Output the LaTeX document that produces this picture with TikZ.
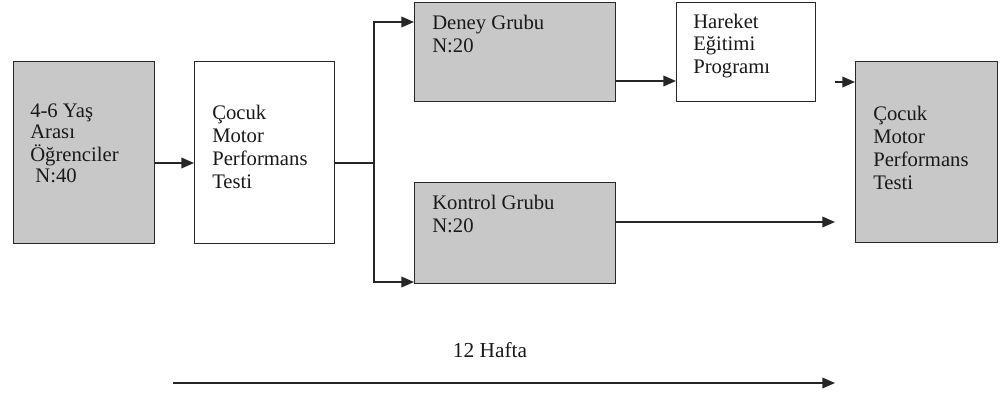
\documentclass[tikz,border=0pt]{standalone}
\usepackage{fontspec}
\setmainfont{Liberation Serif}
\usetikzlibrary{arrows.meta,calc}
\definecolor{boxgray}{RGB}{200,200,200}
\definecolor{edge}{RGB}{40,40,40}
\newcommand\mylines[2]{\fontsize{15.5}{#1}\selectfont\begin{tabular}[t]{@{}l@{}}#2\end{tabular}}
\tikzset{
  box/.style={draw=edge, line width=0.9pt, anchor=north west, inner sep=0pt},
  gbox/.style={box, fill=boxgray},
  wbox/.style={box, fill=white},
  txt/.style={anchor=base west, inner sep=0pt, text=black!90},
  conn/.style={line width=1.1pt, draw=black!85},
  arr/.style={conn, -{Triangle[length=9.5pt,width=8pt]}}
}
\begin{document}
\begin{tikzpicture}[x=0.75pt,y=-0.75pt]
\useasboundingbox (0,0) rectangle (1000,396);
% boxes
\node[gbox, minimum width={141*0.75pt}, minimum height={182*0.75pt}] (b1) at (13,61) {};
\node[wbox, minimum width={140*0.75pt}, minimum height={182*0.75pt}] (b2) at (194,61) {};
\node[gbox, minimum width={201*0.75pt}, minimum height={99*0.75pt}] (deney) at (414,2) {};
\node[wbox, minimum width={139*0.75pt}, minimum height={99*0.75pt}] (hareket) at (676,2) {};
\node[gbox, minimum width={201*0.75pt}, minimum height={101*0.75pt}] (kontrol) at (414,182) {};
\node[gbox, minimum width={142*0.75pt}, minimum height={181*0.75pt}] (final) at (855,61) {};
% texts
\node[txt] (t1) at (30,117) {\mylines{15.75pt}{4-6 Yaş\\Arası\\Öğrenciler\\\ N:40}};
\node[txt] (t2) at (212,119) {\mylines{17.25pt}{Çocuk\\Motor\\Performans\\Testi}};
\node[txt] (t3) at (432,29) {\mylines{17.25pt}{Deney Grubu\\N:20}};
\node[txt] (t4) at (693,28) {\mylines{17pt}{Hareket\\Eğitimi\\Programı}};
\node[txt] (t5) at (432,209) {\mylines{17.25pt}{Kontrol Grubu\\N:20}};
\node[txt] (t6) at (873,120) {\mylines{17.25pt}{Çocuk\\Motor\\Performans\\Testi}};
\node[anchor=base, inner sep=0pt, text=black!90, font=\fontsize{16}{18}\selectfont] (hafta) at (490,357) {12 Hafta};
% coordinates
\coordinate (split) at (374,163);
\coordinate (jt) at (374,22);
\coordinate (jb) at (374,282);
\coordinate (dh) at ($(deney.north east)+(0,79)$);
\coordinate (stub) at (835,82);
\coordinate (kend) at (835,222);
\coordinate (ts) at (173,383);
\coordinate (te) at (835,383);
% connectors
\draw[arr] ($(b1.north east)+(0,102)$) -- ($(b2.north west)+(0,102)$);
\draw[conn] ($(b2.north east)+(0,102)$) -- (split);
\draw[arr] (split) -- (jt) -- (deney.west |- jt);
\draw[arr] (split) -- (jb) -- (kontrol.west |- jb);
\draw[arr] (dh) -- (hareket.west |- dh);
\draw[arr] (stub) -- (final.west |- stub);
\draw[arr] ($(kontrol.north east)+(0,40)$) -- (kend);
\draw[arr] (ts) -- (te);
\end{tikzpicture}
\end{document}
